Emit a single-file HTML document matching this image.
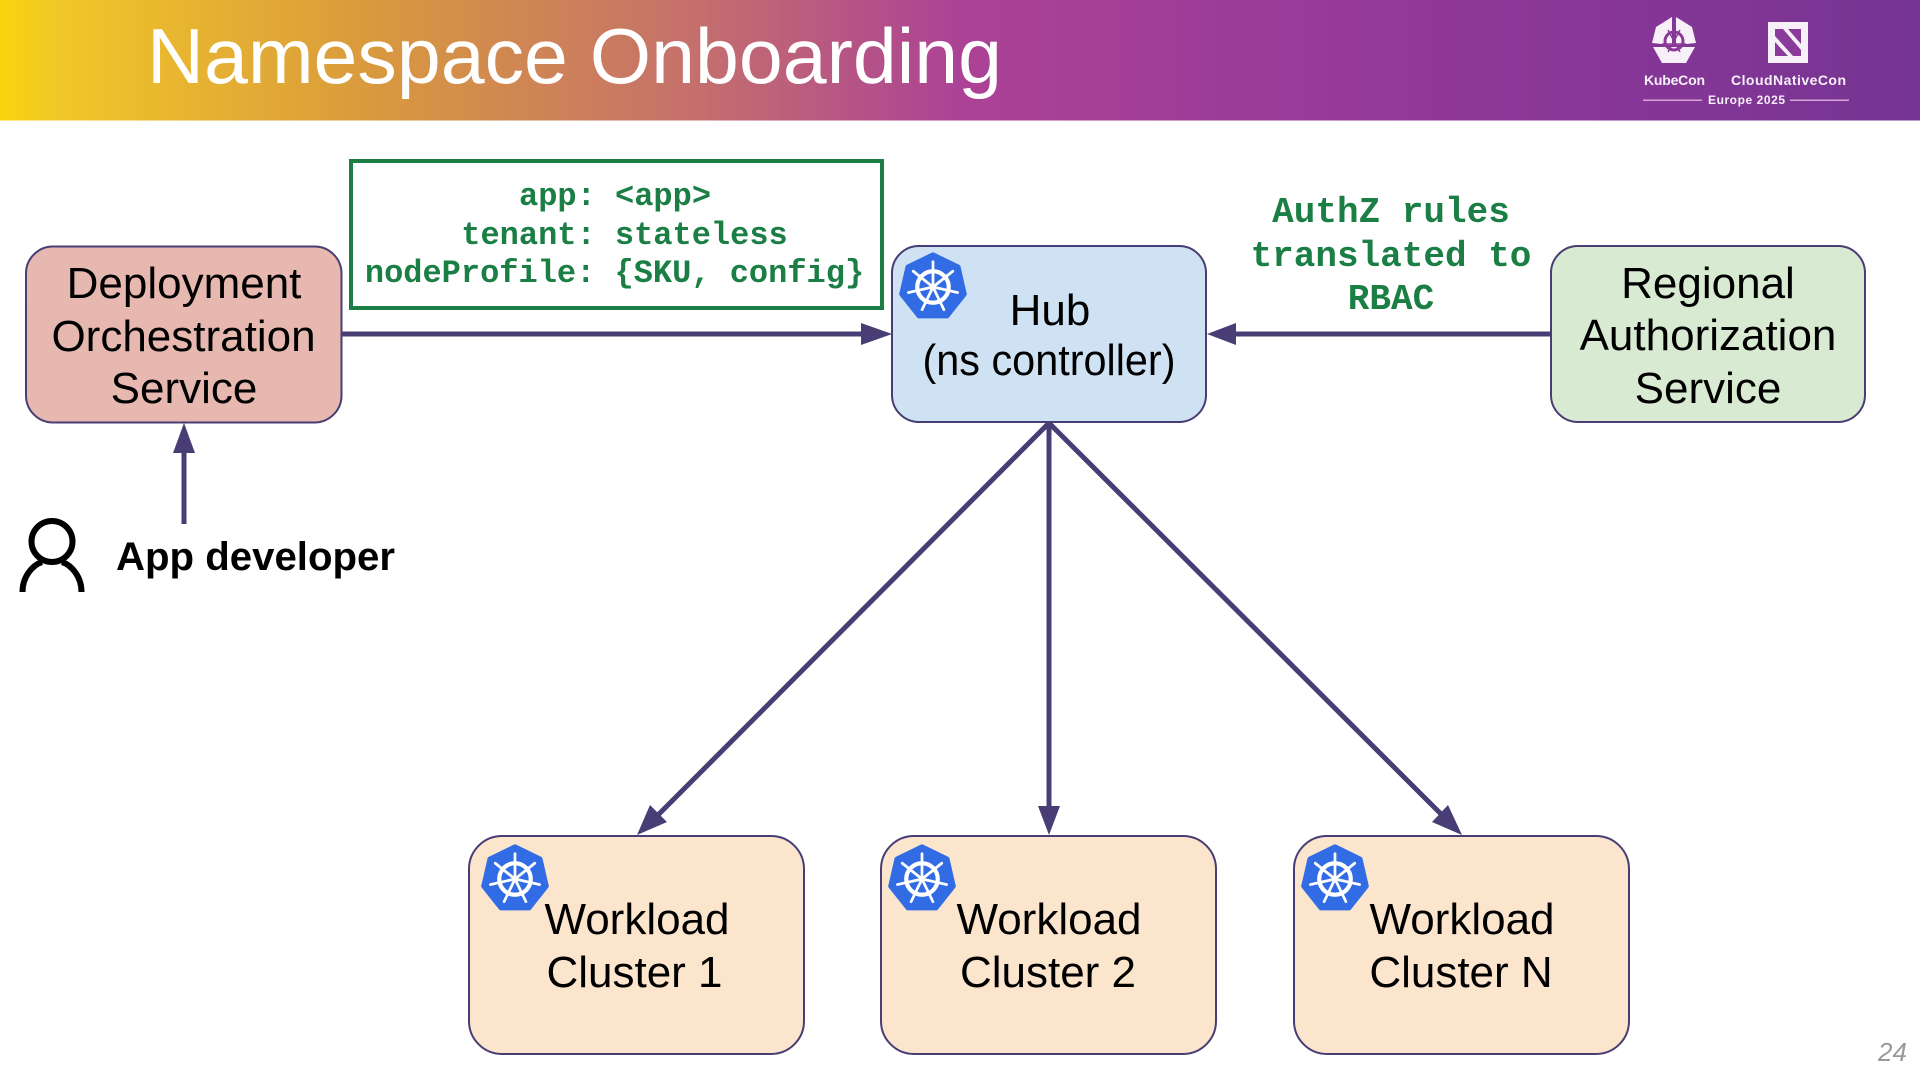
<!DOCTYPE html>
<html>
<head>
<meta charset="utf-8">
<style>
html,body{margin:0;padding:0;background:#fff;}
svg{display:block;}
text{font-family:"Liberation Sans",sans-serif;}
.b{font-size:44px;fill:#000;text-anchor:middle;}
.m{font-family:"Liberation Mono",monospace;font-weight:bold;fill:#1b7f45;text-anchor:middle;}
</style>
</head>
<body>
<svg width="1920" height="1080" viewBox="0 0 1920 1080" xmlns="http://www.w3.org/2000/svg">
<defs>
<linearGradient id="g" x1="0" y1="0" x2="1" y2="0">
<stop offset="0" stop-color="#f9d40e"/>
<stop offset="0.03" stop-color="#f1c727"/>
<stop offset="0.2" stop-color="#d8983f"/>
<stop offset="0.36" stop-color="#c5706c"/>
<stop offset="0.5" stop-color="#ac4296"/>
<stop offset="0.75" stop-color="#90389a"/>
<stop offset="1" stop-color="#763492"/>
</linearGradient>
<g id="k">
<g transform="scale(1.05)">
<polygon points="0,-31 24.2,-19.3 30.2,6.9 13.5,27.9 -13.5,27.9 -30.2,6.9 -24.2,-19.3" fill="#326ce5" stroke="#326ce5" stroke-width="4" stroke-linejoin="round"/>
<circle r="15" fill="none" stroke="#fff" stroke-width="4"/>
<circle r="3" fill="#fff"/>
<g stroke="#fff" stroke-width="2.6" stroke-linecap="round">
<line x1="0" y1="0" x2="0" y2="-24"/>
<line x1="0" y1="0" x2="18.8" y2="-15"/>
<line x1="0" y1="0" x2="23.4" y2="5.3"/>
<line x1="0" y1="0" x2="10.4" y2="21.6"/>
<line x1="0" y1="0" x2="-10.4" y2="21.6"/>
<line x1="0" y1="0" x2="-23.4" y2="5.3"/>
<line x1="0" y1="0" x2="-18.8" y2="-15"/>
</g>
</g>
</g>
</defs>

<!-- Header -->
<rect x="0" y="0" width="1920" height="120.500" fill="url(#g)"/>
<text x="147" y="83" font-size="78" fill="#fff" textLength="855" lengthAdjust="spacingAndGlyphs">Namespace Onboarding</text>

<!-- Logos -->
<polygon points="1672,17 1672,45 1652,43 1656,27" fill="#f8f0f8"/>
<polygon points="1676,17 1676,45 1696,43 1692,27" fill="#f8f0f8"/>
<polygon points="1653,47 1695,47 1686,63 1662,63" fill="#f8f0f8"/>
<circle cx="1674" cy="41" r="9" fill="none" stroke="#8a3a98" stroke-width="3"/>
<g stroke="#8a3a98" stroke-width="1.5"><line x1="1662" y1="44" x2="1686" y2="44"/><line x1="1668" y1="52" x2="1680" y2="30"/><line x1="1680" y1="52" x2="1668" y2="30"/></g>
<rect x="1768" y="22" width="40" height="41" fill="#f8f0f8"/>
<polygon points="1775,29 1783,29 1801,50 1801,56 1793,56 1775,36" fill="#8a3a98"/>
<polygon points="1788,29 1801,29 1801,44" fill="#8a3a98"/>
<polygon points="1775,42 1775,56 1788,56" fill="#8a3a98"/>
<text x="1644" y="85" font-size="14" font-weight="bold" fill="#f8f0f8" textLength="61">KubeCon</text>
<text x="1731" y="85" font-size="14" font-weight="bold" fill="#f8f0f8" textLength="115">CloudNativeCon</text>
<text x="1708" y="104" font-size="12" font-weight="bold" fill="#f8f0f8" textLength="77">Europe 2025</text>
<rect x="1643" y="99.500" width="59" height="1.500" fill="#d8a4d8"/>
<rect x="1790" y="99.500" width="59" height="1.500" fill="#d8a4d8"/>

<!-- Green box -->
<rect x="351" y="161" width="531" height="147" fill="#fff" stroke="#1b7f45" stroke-width="4"/>
<text class="m" font-size="32" x="615" y="205">app: &lt;app&gt;</text>
<text class="m" font-size="32" x="624.500" y="244">tenant: stateless</text>
<text class="m" font-size="32" x="614.500" y="282">nodeProfile: {SKU, config}</text>

<!-- AuthZ label -->
<text class="m" font-size="36" x="1391" y="222">AuthZ rules</text>
<text class="m" font-size="36" x="1391" y="266">translated to</text>
<text class="m" font-size="36" x="1391" y="309">RBAC</text>

<!-- Connectors -->
<g stroke="#483d74" stroke-width="5" fill="none">
<line x1="342" y1="334" x2="864" y2="334"/>
<line x1="1550" y1="334" x2="1234" y2="334"/>
<line x1="184" y1="524" x2="184" y2="452"/>
<line x1="1049" y1="423" x2="1049" y2="808"/>
<line x1="1049" y1="423" x2="657" y2="816"/>
<line x1="1049" y1="423" x2="1443" y2="816"/>
</g>
<g fill="#483d74">
<polygon points="892,334 861,323 861,345"/>
<polygon points="1207,334 1236,323 1236,345"/>
<polygon points="184,423 173,453 195,453"/>
<polygon points="1049,835 1038,806 1060,806"/>
<polygon points="637,835 650,805 667,822"/>
<polygon points="1462,835 1432,822 1448,805"/>
</g>

<!-- Nodes -->
<rect x="26" y="246.500" width="315.500" height="176" rx="27" fill="#e6b8af" stroke="#483d74" stroke-width="2"/>
<rect x="892" y="246" width="314" height="176" rx="27" fill="#cfe2f3" stroke="#483d74" stroke-width="2"/>
<rect x="1551" y="246" width="314" height="176" rx="27" fill="#d9ead3" stroke="#483d74" stroke-width="2"/>
<rect x="469" y="836" width="335" height="218" rx="33" fill="#fce5cd" stroke="#483d74" stroke-width="2"/>
<rect x="881" y="836" width="335" height="218" rx="33" fill="#fce5cd" stroke="#483d74" stroke-width="2"/>
<rect x="1294" y="836" width="335" height="218" rx="33" fill="#fce5cd" stroke="#483d74" stroke-width="2"/>

<use href="#k" x="933" y="287"/>
<use href="#k" x="515" y="879"/>
<use href="#k" x="922" y="879"/>
<use href="#k" x="1335" y="879"/>

<!-- Node labels -->
<text class="b" x="184" y="298">Deployment</text>
<text class="b" x="183.500" y="351">Orchestration</text>
<text class="b" x="184" y="403">Service</text>

<text class="b" x="1050" y="325">Hub</text>
<text class="b" x="1049" y="375" textLength="253" lengthAdjust="spacingAndGlyphs">(ns controller)</text>

<text class="b" x="1708" y="298">Regional</text>
<text class="b" x="1708" y="350">Authorization</text>
<text class="b" x="1708" y="403">Service</text>

<text class="b" x="637" y="934">Workload</text>
<text class="b" x="634.500" y="987">Cluster 1</text>
<text class="b" x="1049" y="934">Workload</text>
<text class="b" x="1048" y="987">Cluster 2</text>
<text class="b" x="1462" y="934">Workload</text>
<text class="b" x="1461" y="987">Cluster N</text>

<!-- App developer -->
<circle cx="52" cy="541.500" r="20.500" fill="none" stroke="#000" stroke-width="6"/>
<path d="M22.500 592 C22.500 576 33 565 42 562 M81.500 592 C81.500 576 71 565 62 562" fill="none" stroke="#000" stroke-width="6"/>
<text x="116" y="570" font-size="40" font-weight="bold" fill="#000" textLength="279" lengthAdjust="spacingAndGlyphs">App developer</text>

<!-- Page number -->
<text x="1878" y="1061" font-size="26" font-style="italic" fill="#999">24</text>
</svg>
</body>
</html>
